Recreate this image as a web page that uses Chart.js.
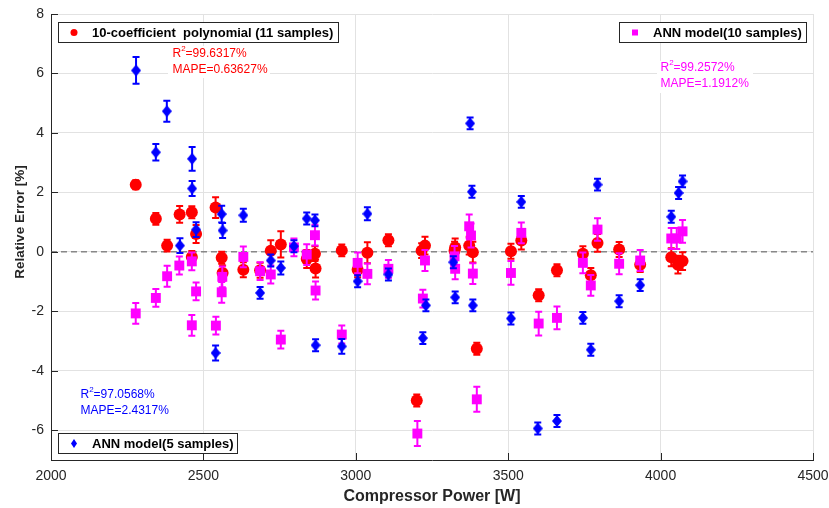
<!DOCTYPE html>
<html>
<head>
<meta charset="utf-8">
<script src="https://cdn.jsdelivr.net/npm/chart.js@4.4.1/dist/chart.umd.min.js"></script>
<style>
  html, body { margin: 0; padding: 0; background: #fff; }
  #wrap { width: 829px; height: 508px; }
</style>
</head>
<body>
<div id="wrap"><canvas id="errChart" width="829" height="508"></canvas></div>
<script>
// 10-coefficient polynomial (red circles)
const polyX = [2278, 2344, 2381, 2422, 2462, 2462, 2476, 2540, 2560, 2563, 2631, 2686, 2721, 2754, 2839, 2866, 2868, 2954, 3006, 3038, 3107, 3200, 3216, 3227, 3324, 3326, 3372, 3384, 3397, 3509, 3543, 3600, 3660, 3745, 3771, 3793, 3864, 3933, 4035, 4057, 4072];
const polyY = [2.26, 1.11, 0.21, 1.26, 1.33, -0.17, 0.6, 1.49, -0.2, -0.71, -0.6, -0.62, 0.04, 0.25, -0.24, -0.06, -0.56, 0.05, -0.6, -0.03, 0.39, -5.0, 0.04, 0.21, 0.04, 0.15, 0.21, -0.01, -3.26, 0.02, 0.38, -1.46, -0.62, -0.06, -0.79, 0.3, 0.08, -0.43, -0.18, -0.43, -0.31];
const polyErr = [0.15, 0.2, 0.2, 0.28, 0.2, 0.2, 0.3, 0.35, 0.2, 0.25, 0.25, 0.25, 0.35, 0.44, 0.3, 0.25, 0.3, 0.2, 0.25, 0.35, 0.2, 0.2, 0.25, 0.3, 0.3, 0.3, 0.3, 0.35, 0.2, 0.25, 0.3, 0.2, 0.2, 0.25, 0.25, 0.3, 0.25, 0.25, 0.3, 0.3, 0.3];

// ANN model, 10 samples (magenta squares)
const ann10X = [2278, 2344, 2381, 2421, 2462, 2462, 2476, 2541, 2560, 2562, 2631, 2686, 2721, 2754, 2797, 2839, 2866, 2868, 2954, 3006, 3038, 3107, 3202, 3220, 3227, 3324, 3326, 3372, 3378, 3384, 3397, 3509, 3543, 3600, 3660, 3745, 3771, 3793, 3864, 3933, 4035, 4053, 4072];
const ann10Y = [-2.07, -1.55, -0.82, -0.46, -0.32, -2.47, -1.33, -2.48, -1.36, -0.84, -0.17, -0.65, -0.76, -2.95, 0.15, -0.09, 0.56, -1.3, -2.78, -0.37, -0.74, -0.57, -6.11, -1.57, -0.29, -0.15, -0.57, 0.86, 0.55, -0.73, -4.96, -0.71, 0.64, -2.41, -2.22, -0.37, -1.13, 0.75, -0.4, -0.29, 0.45, 0.45, 0.69];
const ann10Err = [0.35, 0.3, 0.35, 0.3, 0.3, 0.35, 0.3, 0.3, 0.35, 0.35, 0.35, 0.3, 0.3, 0.3, 0.3, 0.35, 0.35, 0.3, 0.3, 0.35, 0.35, 0.3, 0.42, 0.3, 0.35, 0.35, 0.35, 0.4, 0.4, 0.35, 0.42, 0.4, 0.35, 0.4, 0.38, 0.35, 0.35, 0.38, 0.35, 0.35, 0.35, 0.35, 0.38];

// ANN model, 5 samples (blue diamonds)
const ann5X = [2279, 2344, 2380, 2423, 2463, 2463, 2476, 2540, 2560, 2563, 2631, 2686, 2721, 2754, 2797, 2839, 2866, 2868, 2954, 3006, 3038, 3107, 3220, 3230, 3320, 3326, 3375, 3381, 3384, 3509, 3543, 3597, 3660, 3745, 3771, 3793, 3864, 3933, 4035, 4059, 4072];
const ann5Y = [6.1, 3.35, 4.73, 0.21, 3.13, 2.13, 0.75, -3.4, 1.27, 0.72, 1.23, -1.38, -0.29, -0.54, 0.19, 1.12, 1.06, -3.14, -3.18, -0.99, 1.28, -0.76, -2.9, -1.8, -0.35, -1.53, 4.32, 2.02, -1.8, -2.24, 1.68, -5.94, -5.69, -2.22, -3.29, 2.26, -1.66, -1.12, 1.18, 1.98, 2.37];
const ann5Err = [0.45, 0.28, 0.35, 0.25, 0.4, 0.25, 0.25, 0.25, 0.28, 0.25, 0.22, 0.2, 0.2, 0.22, 0.2, 0.2, 0.2, 0.2, 0.25, 0.2, 0.22, 0.2, 0.2, 0.2, 0.2, 0.2, 0.2, 0.2, 0.2, 0.2, 0.2, 0.2, 0.2, 0.2, 0.2, 0.2, 0.2, 0.2, 0.2, 0.2, 0.2];

const zeroLineX = [2000, 4500];
const zeroLineY = [0, 0];

const legendLabels = ["10-coefficient  polynomial (11 samples)", "ANN model(10 samples)", "ANN model(5 samples)"];
const statLines = [
  ["99.6317%", "MAPE=0.63627%"],
  ["99.2572%", "MAPE=1.1912%"],
  ["97.0568%", "MAPE=2.4317%"]
];

const RED = "#ff0000";
const MAG = "#ff00ff";
const BLUE = "#0000ff";
const FONT = "'Liberation Sans', Arial, sans-serif";

function points(xs, ys) {
  return xs.map((x, i) => ({ x, y: ys[i] }));
}

function makeDiamond(w, h, color) {
  const c = document.createElement("canvas");
  c.width = w;
  c.height = h;
  const g = c.getContext("2d");
  g.fillStyle = color;
  g.beginPath();
  g.moveTo(w / 2, 0);
  g.lineTo(w, h / 2);
  g.lineTo(w / 2, h);
  g.lineTo(0, h / 2);
  g.closePath();
  g.fill();
  return c;
}

// vertical error bars, drawn right before each dataset so markers sit on top
const errorBars = {
  id: "errorBars",
  beforeDatasetDraw(chart, args) {
    const ds = chart.data.datasets[args.index];
    if (!ds.errors) return;
    const { ctx, scales: { x, y } } = chart;
    ctx.save();
    ctx.strokeStyle = ds.barColor;
    ctx.lineWidth = 2;
    ds.data.forEach((p, i) => {
      const px = x.getPixelForValue(p.x);
      const top = y.getPixelForValue(p.y + ds.errors[i]);
      const bot = y.getPixelForValue(p.y - ds.errors[i]);
      ctx.beginPath();
      ctx.moveTo(px, top);
      ctx.lineTo(px, bot);
      ctx.moveTo(px - 3.5, top);
      ctx.lineTo(px + 3.5, top);
      ctx.moveTo(px - 3.5, bot);
      ctx.lineTo(px + 3.5, bot);
      ctx.stroke();
    });
    ctx.restore();
  }
};

function statText(ctx, left, cy, lines, color) {
  ctx.font = "12px " + FONT;
  ctx.textBaseline = "middle";
  ctx.textAlign = "left";
  ctx.fillStyle = color;
  ctx.fillText("R", left, cy);
  let w = ctx.measureText("R").width;
  ctx.font = "8px " + FONT;
  ctx.fillText("2", left + w, cy - 5);
  w += ctx.measureText("2").width;
  ctx.font = "12px " + FONT;
  ctx.fillText("=" + lines[0], left + w, cy);
  ctx.fillText(lines[1], left, cy + 16);
}

function legendBox(ctx, bx, by, bw, label, drawMarker) {
  ctx.fillStyle = "#fff";
  ctx.fillRect(bx, by, bw, 20);
  ctx.strokeStyle = "#262626";
  ctx.lineWidth = 1;
  ctx.strokeRect(bx + 0.5, by + 0.5, bw, 20);
  drawMarker(bx + 16, by + 10.5);
  ctx.fillStyle = "#000";
  ctx.font = "bold 13px " + FONT;
  ctx.textBaseline = "middle";
  ctx.textAlign = "left";
  ctx.fillText(label, bx + 34, by + 11);
}

const overlay = {
  id: "overlay",
  afterDraw(chart) {
    const { ctx, chartArea: a, scales: { x, y } } = chart;
    ctx.save();

    // inward tick marks
    ctx.strokeStyle = "#262626";
    ctx.lineWidth = 1;
    x.ticks.forEach(t => {
      const px = Math.round(x.getPixelForValue(t.value)) + 0.5;
      ctx.beginPath();
      ctx.moveTo(px, a.bottom);
      ctx.lineTo(px, a.bottom - 7);
      ctx.stroke();
    });
    y.ticks.forEach(t => {
      const py = Math.round(y.getPixelForValue(t.value)) + 0.5;
      ctx.beginPath();
      ctx.moveTo(a.left, py);
      ctx.lineTo(a.left + 7, py);
      ctx.stroke();
    });

    // y axis title
    ctx.save();
    ctx.translate(20.5, 222);
    ctx.rotate(-Math.PI / 2);
    ctx.fillStyle = "#262626";
    ctx.font = "bold 13.5px " + FONT;
    ctx.textAlign = "center";
    ctx.textBaseline = "middle";
    ctx.fillText("Relative Error [%]", 0, 0);
    ctx.restore();

    // statistics labels with white backing
    ctx.fillStyle = "#fff";
    ctx.fillRect(168, 46, 102, 32);
    ctx.fillRect(657, 61, 96, 32);
    statText(ctx, 172.5, 53.5, statLines[0], RED);
    statText(ctx, 660.5, 68, statLines[1], MAG);
    statText(ctx, 80.5, 395, statLines[2], BLUE);

    // three separate legend boxes
    legendBox(ctx, a.left + 7, a.top + 8, 280, legendLabels[0], (mx, my) => {
      ctx.fillStyle = RED;
      ctx.beginPath();
      ctx.arc(mx, my, 3.5, 0, Math.PI * 2);
      ctx.fill();
    });
    legendBox(ctx, a.right - 194, a.top + 8, 187, legendLabels[1], (mx, my) => {
      ctx.fillStyle = MAG;
      ctx.fillRect(mx - 3, my - 3, 6, 6);
    });
    legendBox(ctx, a.left + 7, a.bottom - 27, 179, legendLabels[2], (mx, my) => {
      ctx.fillStyle = BLUE;
      ctx.beginPath();
      ctx.moveTo(mx, my - 4.5);
      ctx.lineTo(mx + 3, my);
      ctx.lineTo(mx, my + 4.5);
      ctx.lineTo(mx - 3, my);
      ctx.closePath();
      ctx.fill();
    });

    ctx.restore();
  }
};

const ctx = document.getElementById("errChart").getContext("2d");

new Chart(ctx, {
  type: "scatter",
  data: {
    datasets: [
      {
        label: "zero",
        type: "line",
        data: points(zeroLineX, zeroLineY),
        borderColor: "#555555",
        borderWidth: 1,
        borderDash: [6, 4],
        pointRadius: 0,
        order: 4
      },
      {
        label: legendLabels[0],
        data: points(polyX, polyY),
        errors: polyErr,
        barColor: RED,
        pointStyle: "circle",
        pointRadius: 6,
        pointBackgroundColor: RED,
        pointBorderWidth: 0,
        order: 3
      },
      {
        label: legendLabels[1],
        data: points(ann10X, ann10Y),
        errors: ann10Err,
        barColor: MAG,
        pointStyle: "rect",
        pointRadius: 7,
        pointBackgroundColor: MAG,
        pointBorderWidth: 0,
        order: 2
      },
      {
        label: legendLabels[2],
        data: points(ann5X, ann5Y),
        errors: ann5Err,
        barColor: BLUE,
        pointStyle: makeDiamond(10, 12, BLUE),
        pointRadius: 6,
        pointBackgroundColor: BLUE,
        pointBorderWidth: 0,
        order: 1
      }
    ]
  },
  options: {
    animation: false,
    responsive: false,
    devicePixelRatio: 1,
    layout: { padding: { top: 14, right: 16, left: 0, bottom: 0 } },
    plugins: {
      legend: { display: false },
      tooltip: { enabled: false }
    },
    scales: {
      x: {
        type: "linear",
        min: 2000,
        max: 4500,
        ticks: {
          stepSize: 500,
          padding: 8,
          color: "#262626",
          font: { family: FONT, size: 14 },
          callback: v => String(v)
        },
        grid: { color: "#e2e2e2", drawTicks: false },
        border: { display: true, color: "#262626", width: 1 },
        title: {
          display: true,
          text: "Compressor Power [W]",
          color: "#262626",
          font: { family: FONT, size: 16, weight: "bold" },
          padding: { top: 0, bottom: 2 }
        },
        afterFit(scale) {
          scale.height = 48;
          scale.paddingLeft = 0;
          scale.paddingRight = 0;
        }
      },
      y: {
        type: "linear",
        min: -7,
        max: 8,
        ticks: {
          stepSize: 2,
          padding: 7,
          color: "#262626",
          font: { family: FONT, size: 14 },
          callback: v => String(v)
        },
        afterBuildTicks(scale) {
          scale.ticks = scale.ticks.filter(t => t.value % 2 === 0);
        },
        grid: { color: "#e2e2e2", drawTicks: false },
        border: { display: true, color: "#262626", width: 1 },
        afterFit(scale) {
          scale.width = 51;
          scale.paddingTop = 0;
          scale.paddingBottom = 0;
        }
      }
    }
  },
  plugins: [errorBars, overlay]
});
</script>
</body>
</html>
